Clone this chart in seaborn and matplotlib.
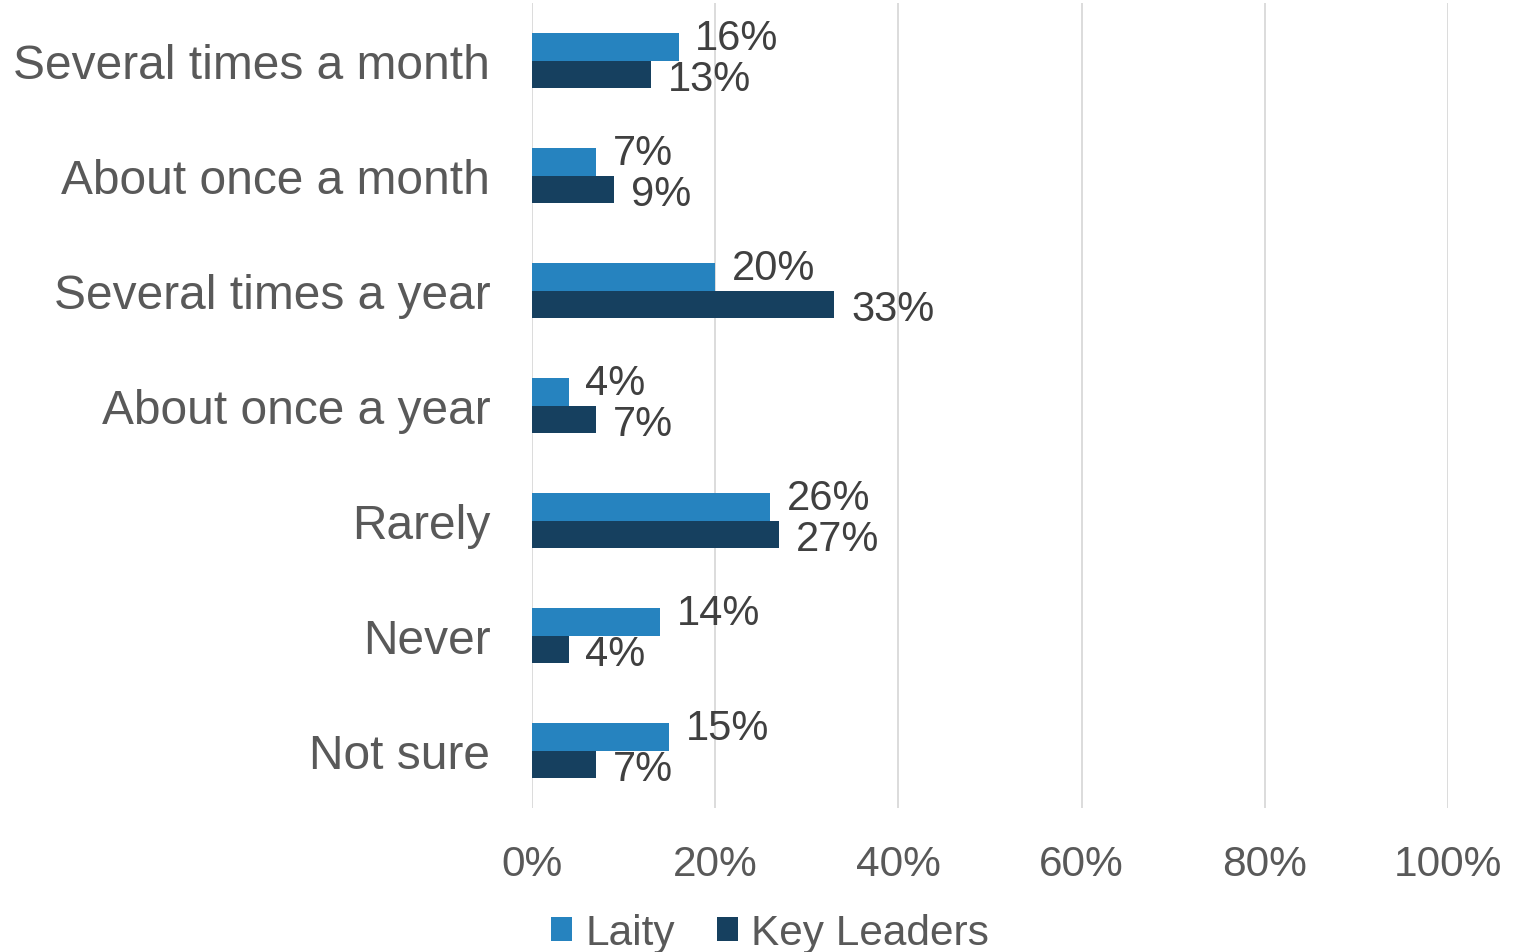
import matplotlib
matplotlib.use("Agg")
import matplotlib.pyplot as plt
import seaborn as sns
import pandas as pd
from matplotlib.patches import Patch

categories = ["Several times a month", "About once a month", "Several times a year",
              "About once a year", "Rarely", "Never", "Not sure"]
laity = [16, 7, 20, 4, 26, 14, 15]
key_leaders = [13, 9, 33, 7, 27, 4, 7]
series = ["Laity", "Key Leaders"]
colors = ["#2683BF", "#16405F"]
xticks = [0, 20, 40, 60, 80, 100]
xtick_labels = ["0%", "20%", "40%", "60%", "80%", "100%"]

df = pd.DataFrame({
    "category": categories * 2,
    "group": [series[0]] * len(categories) + [series[1]] * len(categories),
    "value": laity + key_leaders,
})

sns.set_theme(style="white")
plt.rcParams["font.family"] = ["Liberation Sans", "DejaVu Sans"]

fig = plt.figure(figsize=(15.15, 9.53), dpi=100)
ax = fig.add_axes([532 / 1515, 1 - 809 / 953, (1448 - 532) / 1515, (809 - 4) / 953])

sns.barplot(data=df, y="category", x="value", hue="group", order=categories,
            hue_order=series, palette=colors, orient="h", width=0.48,
            saturation=1, ax=ax, legend=False, edgecolor="none")

ax.set_xlim(0, 100)
ax.set_ylim(len(categories) - 0.5, -0.5)
ax.set_xticks(xticks)
ax.set_xticklabels(xtick_labels)
ax.set_xlabel("")
ax.set_ylabel("")
for s in ax.spines.values():
    s.set_visible(False)
ax.grid(axis="x", color="#D9D9D9", linewidth=1.3)
ax.set_axisbelow(True)
ax.tick_params(axis="x", labelsize=30.5, colors="#595959", pad=26, length=0)
ax.tick_params(axis="y", labelsize=34.5, colors="#595959", pad=30, length=0)

offsets = [6, -3.5]
for cont, dy in zip(ax.containers, offsets):
    for bar in cont:
        w = bar.get_width()
        yc = bar.get_y() + bar.get_height() / 2
        ax.annotate(f"{w:.0f}%", xy=(w, yc), xytext=(12, dy), textcoords="offset points",
                    ha="left", va="center", fontsize=30, color="#404040")

handles = [Patch(facecolor=c, edgecolor="none") for c in colors]
fig.legend(handles, series, loc="center", bbox_to_anchor=(770 / 1515, 1 - 934 / 953),
           ncol=2, frameon=False, fontsize=30.5, handlelength=0.5, handleheight=0.5,
           handletextpad=0.3, columnspacing=1.0, labelcolor="#595959",
           borderpad=0, borderaxespad=0)

fig.savefig("out.png", dpi=100)
